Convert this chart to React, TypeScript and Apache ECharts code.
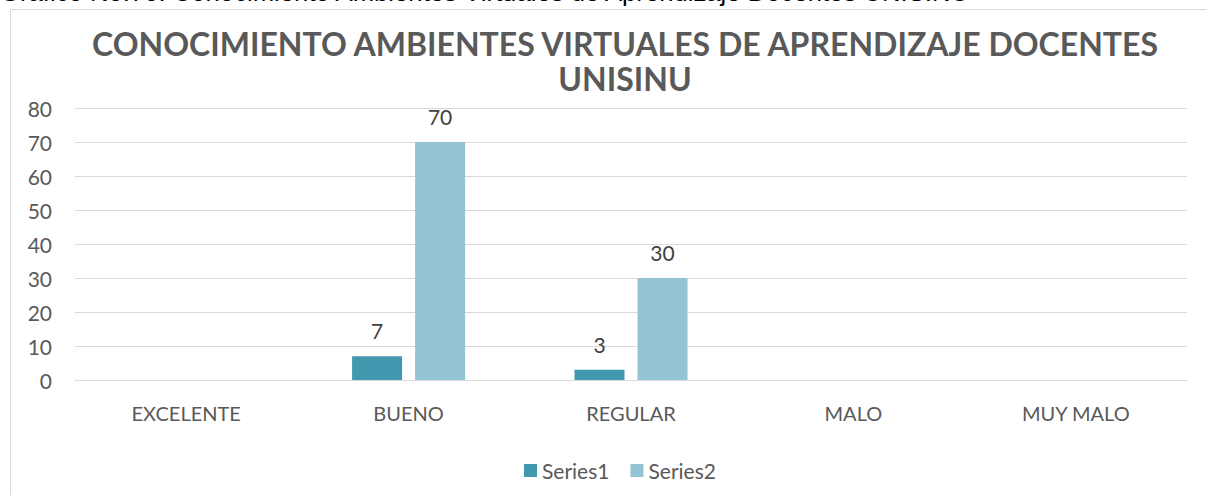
import React, { useEffect, useRef } from "react";
import * as echarts from "echarts";

const categories = ["EXCELENTE", "BUENO", "REGULAR", "MALO", "MUY MALO"];
const series1 = [null, 7, 3, null, null];
const series2 = [null, 70, 30, null, null];
const yTicks = { min: 0, max: 80, interval: 10 };
const titleLine1 = "CONOCIMIENTO AMBIENTES VIRTUALES DE APRENDIZAJE DOCENTES";
const titleLine2 = "UNISINU";
const captionText = "Gráfico No.70. Conocimiento Ambientes Virtuales de Aprendizaje Docentes UNISINU";

export default function App() {
  const ref = useRef<HTMLDivElement>(null);
  useEffect(() => {
    document.body.style.margin = "0";
    const chart = echarts.init(ref.current!, null, { renderer: "svg" });
    const font = "Lato, 'Open Sans', sans-serif";
    const labelStyle = {
      show: true,
      position: "top",
      distance: 15,
      fontFamily: font,
      fontSize: 21,
      color: "#404040",
    };
    const titleStyle = {
      fontFamily: font,
      fontWeight: "bold",
      fontSize: 32,
      color: "#595959",
    };
    chart.setOption({
      animation: false,
      backgroundColor: "#ffffff",
      title: [
        {
          text: titleLine1,
          left: 625,
          top: 26,
          padding: 0,
          textAlign: "center",
          textStyle: { ...titleStyle, lineHeight: 34 },
        },
        {
          text: titleLine2,
          left: 625,
          top: 61,
          padding: 0,
          textAlign: "center",
          textStyle: { ...titleStyle, lineHeight: 34 },
        },
      ],
      graphic: [
        {
          type: "rect",
          shape: { x: 10.5, y: 9.5, width: 1400, height: 700 },
          style: { fill: "none", stroke: "#d9d9d9", lineWidth: 1 },
          silent: true,
          z: -1,
        },
        {
          type: "text",
          x: 0,
          y: 5,
          style: {
            text: captionText,
            fontFamily: "'Liberation Sans', Arial, sans-serif",
            fontSize: 25.7,
            fill: "#000000",
            textVerticalAlign: "bottom",
          },
        },
      ],
      legend: {
        data: ["Series1", "Series2"],
        left: 519,
        top: 455,
        itemWidth: 13,
        itemHeight: 13,
        itemGap: 21,
        icon: "rect",
        textStyle: { fontFamily: font, fontSize: 21, color: "#595959", padding: [0, 0, 0, 0] },
      },
      grid: { left: 75, right: 19, top: 108, bottom: 115 },
      xAxis: {
        type: "category",
        data: categories,
        axisLine: { lineStyle: { color: "#d9d9d9", width: 1 } },
        axisTick: { show: false },
        axisLabel: { fontFamily: font, fontSize: 20, color: "#595959", margin: 23 },
      },
      yAxis: {
        type: "value",
        min: yTicks.min,
        max: yTicks.max,
        interval: yTicks.interval,
        axisLine: { show: false },
        axisTick: { show: false },
        splitLine: { lineStyle: { color: "#d9d9d9", width: 1 } },
        axisLabel: { fontFamily: font, fontSize: 21, color: "#595959", margin: 23 },
      },
      series: [
        {
          name: "Series1",
          type: "bar",
          data: series1,
          barWidth: 50,
          barGap: "26%",
          itemStyle: { color: "#4298AF" },
          label: labelStyle,
        },
        {
          name: "Series2",
          type: "bar",
          data: series2,
          barWidth: 50,
          barGap: "26%",
          itemStyle: { color: "#94C3D4" },
          label: labelStyle,
        },
      ],
    });
    return () => chart.dispose();
  }, []);
  return <div ref={ref} style={{ width: 1206, height: 495 }} />;
}
